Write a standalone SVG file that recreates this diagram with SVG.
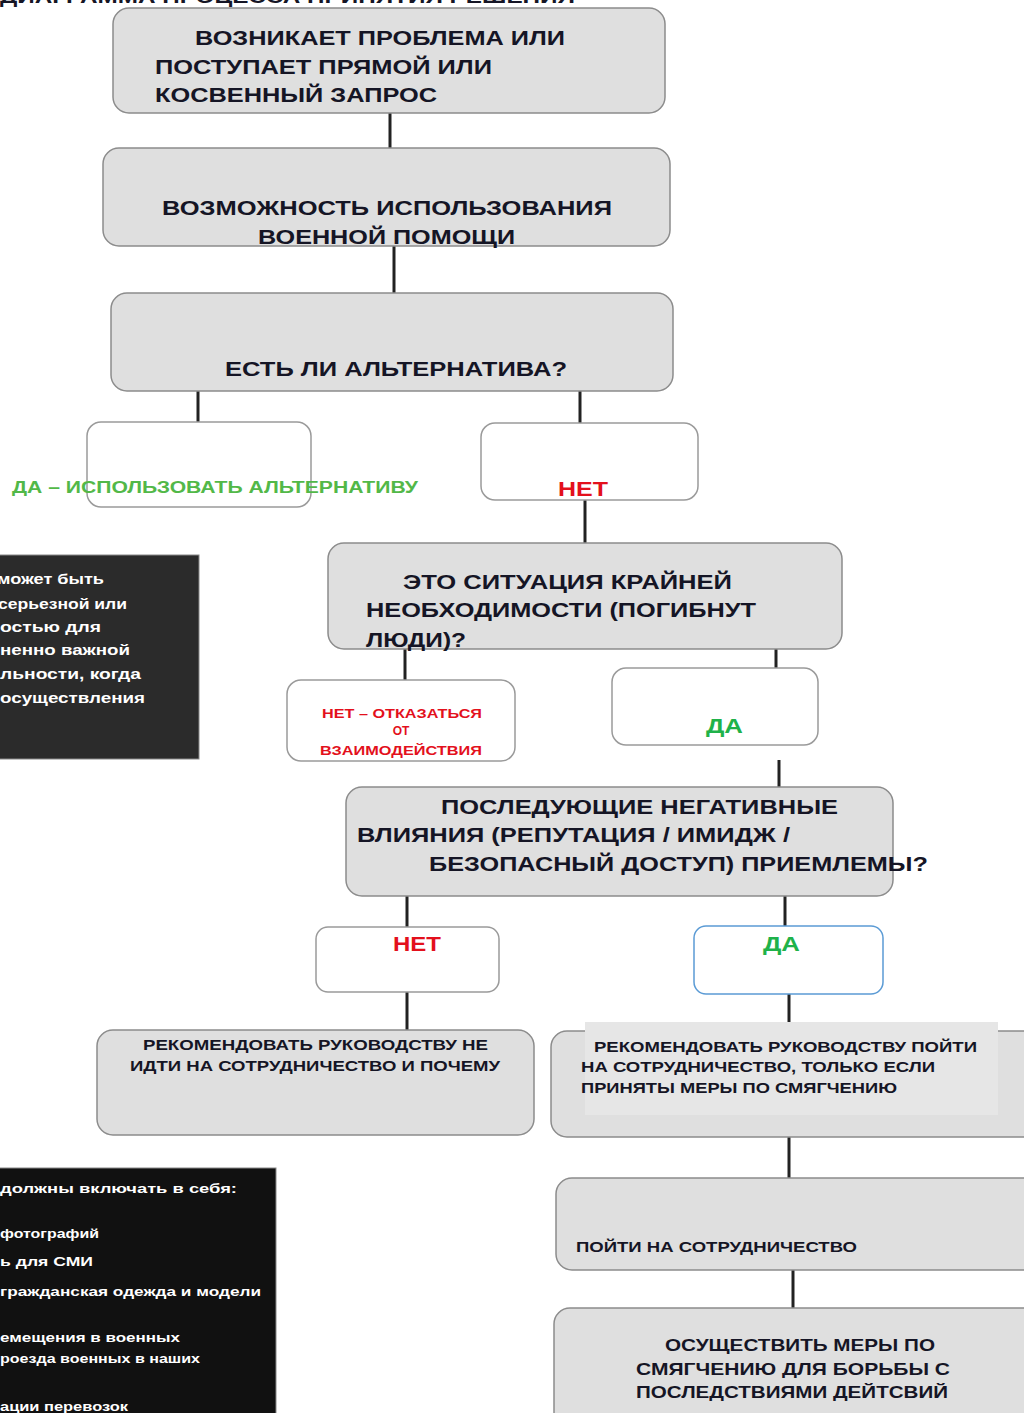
<svg xmlns="http://www.w3.org/2000/svg" width="1024" height="1413" viewBox="0 0 1024 1413">
<style>
.g{fill:#dfdfdf;stroke:#8c8c8c;stroke-width:1.5}
.w{fill:#ffffff;stroke:#9a9a9a;stroke-width:1.5}
.t{font-family:"Liberation Sans",Arial,sans-serif;font-weight:bold;fill:#151525}
.red{font-family:"Liberation Sans",Arial,sans-serif;font-weight:bold;fill:#e3101c}
.grn{font-family:"Liberation Sans",Arial,sans-serif;font-weight:bold;fill:#1fb24a}
.wt{font-family:"Liberation Sans",Arial,sans-serif;font-weight:bold;fill:#ffffff}
.c{stroke:#222;stroke-width:3;fill:none}
</style>
<rect width="1024" height="1413" fill="#ffffff"/>
<text class="t" x="0" y="3" font-size="18" fill="#223" textLength="575" lengthAdjust="spacingAndGlyphs">ДИАГРАММА ПРОЦЕССА ПРИНЯТИЯ РЕШЕНИЯ</text>
<g id="connectors">
<line class="c" x1="390" y1="113" x2="390" y2="148"/>
<line class="c" x1="394" y1="246" x2="394" y2="293"/>
<line class="c" x1="198" y1="391" x2="198" y2="422"/>
<line class="c" x1="580" y1="391" x2="580" y2="423"/>
<line class="c" x1="585" y1="500" x2="585" y2="543"/>
<line class="c" x1="405" y1="649" x2="405" y2="680"/>
<line class="c" x1="776" y1="649" x2="776" y2="680"/>
<line class="c" x1="779" y1="760" x2="779" y2="787"/>
<line class="c" x1="407" y1="896" x2="407" y2="927"/>
<line class="c" x1="785" y1="896" x2="785" y2="926"/>
<line class="c" x1="407" y1="992" x2="407" y2="1030"/>
<line class="c" x1="789" y1="994" x2="789" y2="1031"/>
<line class="c" x1="789" y1="1137" x2="789" y2="1178"/>
<line class="c" x1="793" y1="1270" x2="793" y2="1308"/>
</g>
<g id="n1">
<rect class="g" x="113" y="8" width="552" height="105" rx="16"/>
<text class="t" font-size="21" x="195" y="45" textLength="370" lengthAdjust="spacingAndGlyphs">ВОЗНИКАЕТ ПРОБЛЕМА ИЛИ</text>
<text class="t" font-size="21" x="155" y="74" textLength="337" lengthAdjust="spacingAndGlyphs">ПОСТУПАЕТ ПРЯМОЙ ИЛИ</text>
<text class="t" font-size="21" x="155" y="102" textLength="282" lengthAdjust="spacingAndGlyphs">КОСВЕННЫЙ ЗАПРОС</text>
</g>
<g id="n2">
<rect class="g" x="103" y="148" width="567" height="98" rx="16"/>
<text class="t" font-size="21" x="162" y="215" textLength="450" lengthAdjust="spacingAndGlyphs">ВОЗМОЖНОСТЬ ИСПОЛЬЗОВАНИЯ</text>
<text class="t" font-size="21" x="258" y="244" textLength="257" lengthAdjust="spacingAndGlyphs">ВОЕННОЙ ПОМОЩИ</text>
</g>
<g id="n3">
<rect class="g" x="111" y="293" width="562" height="98" rx="16"/>
<text class="t" font-size="21" x="225" y="376" textLength="342" lengthAdjust="spacingAndGlyphs">ЕСТЬ ЛИ АЛЬТЕРНАТИВА?</text>
</g>
<g id="n4">
<rect class="w" x="87" y="422" width="224" height="85" rx="14"/>
<text class="grn" font-size="16" x="12" y="493" fill="#4fb848" style="fill:#52b848" textLength="406" lengthAdjust="spacingAndGlyphs">ДА – ИСПОЛЬЗОВАТЬ АЛЬТЕРНАТИВУ</text>
</g>
<g id="n5">
<rect class="w" x="481" y="423" width="217" height="77" rx="14"/>
<text class="red" font-size="20" x="558" y="496" textLength="50" lengthAdjust="spacingAndGlyphs">НЕТ</text>
</g>
<g id="note1">
<rect x="-10" y="555" width="209" height="204" fill="#2b2b2b" stroke="#888" stroke-width="1"/>
<text class="wt" font-size="14" x="-3" y="584" textLength="107" lengthAdjust="spacingAndGlyphs">может быть</text>
<text class="wt" font-size="14" x="-2" y="609" textLength="129" lengthAdjust="spacingAndGlyphs">серьезной или</text>
<text class="wt" font-size="14" x="0" y="632" textLength="101" lengthAdjust="spacingAndGlyphs">остью  для</text>
<text class="wt" font-size="14" x="0" y="655" textLength="130" lengthAdjust="spacingAndGlyphs">ненно важной</text>
<text class="wt" font-size="14" x="0" y="679" textLength="141" lengthAdjust="spacingAndGlyphs">льности, когда</text>
<text class="wt" font-size="14" x="0" y="703" textLength="145" lengthAdjust="spacingAndGlyphs">осуществления</text>
</g>
<g id="n6">
<rect class="g" x="328" y="543" width="514" height="106" rx="16"/>
<text class="t" font-size="21" x="403" y="589" textLength="329" lengthAdjust="spacingAndGlyphs">ЭТО СИТУАЦИЯ КРАЙНЕЙ</text>
<text class="t" font-size="21" x="366" y="617" textLength="390" lengthAdjust="spacingAndGlyphs">НЕОБХОДИМОСТИ (ПОГИБНУТ</text>
<text class="t" font-size="21" x="366" y="647" textLength="100" lengthAdjust="spacingAndGlyphs">ЛЮДИ)?</text>
</g>
<g id="n7">
<rect class="w" x="287" y="680" width="228" height="81" rx="14"/>
<text class="red" font-size="12" x="322" y="718" textLength="160" lengthAdjust="spacingAndGlyphs">НЕТ – ОТКАЗАТЬСЯ</text>
<text class="red" font-size="12" x="401" y="735" text-anchor="middle">ОТ</text>
<text class="red" font-size="12" x="320" y="755" textLength="162" lengthAdjust="spacingAndGlyphs">ВЗАИМОДЕЙСТВИЯ</text>
</g>
<g id="n8">
<rect class="w" x="612" y="668" width="206" height="77" rx="14"/>
<text class="grn" font-size="20" x="706" y="733" textLength="37" lengthAdjust="spacingAndGlyphs">ДА</text>
</g>
<g id="n9">
<rect class="g" x="346" y="787" width="547" height="109" rx="16"/>
<text class="t" font-size="21" x="441" y="814" textLength="397" lengthAdjust="spacingAndGlyphs">ПОСЛЕДУЮЩИЕ НЕГАТИВНЫЕ</text>
<text class="t" font-size="21" x="357" y="842" textLength="433" lengthAdjust="spacingAndGlyphs">ВЛИЯНИЯ (РЕПУТАЦИЯ / ИМИДЖ /</text>
<text class="t" font-size="21" x="429" y="871" textLength="499" lengthAdjust="spacingAndGlyphs">БЕЗОПАСНЫЙ ДОСТУП) ПРИЕМЛЕМЫ?</text>
</g>
<g id="n10">
<rect class="w" x="316" y="927" width="183" height="65" rx="12"/>
<text class="red" font-size="20" x="393" y="951" textLength="48" lengthAdjust="spacingAndGlyphs">НЕТ</text>
</g>
<g id="n11">
<rect x="694" y="926" width="189" height="68" rx="12" fill="#ffffff" stroke="#5b9bd5" stroke-width="1.5"/>
<text class="grn" font-size="20" x="763" y="951" textLength="37" lengthAdjust="spacingAndGlyphs">ДА</text>
</g>
<g id="n12">
<rect class="g" x="97" y="1030" width="437" height="105" rx="16"/>
<text class="t" font-size="14" x="143" y="1050" textLength="345" lengthAdjust="spacingAndGlyphs">РЕКОМЕНДОВАТЬ РУКОВОДСТВУ НЕ</text>
<text class="t" font-size="14" x="130" y="1071" textLength="370" lengthAdjust="spacingAndGlyphs">ИДТИ НА СОТРУДНИЧЕСТВО И ПОЧЕМУ</text>
</g>
<g id="n13">
<rect class="g" x="551" y="1031" width="490" height="106" rx="16"/>
<rect x="585" y="1022" width="413" height="93" fill="#e6e6e6"/>
<text class="t" font-size="14" x="594" y="1052" textLength="383" lengthAdjust="spacingAndGlyphs">РЕКОМЕНДОВАТЬ РУКОВОДСТВУ ПОЙТИ</text>
<text class="t" font-size="14" x="581" y="1072" textLength="354" lengthAdjust="spacingAndGlyphs">НА СОТРУДНИЧЕСТВО, ТОЛЬКО ЕСЛИ</text>
<text class="t" font-size="14" x="581" y="1093" textLength="316" lengthAdjust="spacingAndGlyphs">ПРИНЯТЫ МЕРЫ ПО СМЯГЧЕНИЮ</text>
</g>
<g id="note2">
<rect x="-10" y="1168" width="286" height="260" fill="#111111" stroke="#888" stroke-width="1"/>
<text class="wt" font-size="13" x="0" y="1193" textLength="237" lengthAdjust="spacingAndGlyphs">должны включать в себя:</text>
<text class="wt" font-size="13" x="0" y="1238" textLength="99" lengthAdjust="spacingAndGlyphs">фотографий</text>
<text class="wt" font-size="13" x="0" y="1266" textLength="93" lengthAdjust="spacingAndGlyphs">ь для СМИ</text>
<text class="wt" font-size="13" x="0" y="1296" textLength="261" lengthAdjust="spacingAndGlyphs">гражданская одежда и модели</text>
<text class="wt" font-size="13" x="0" y="1342" textLength="180" lengthAdjust="spacingAndGlyphs">емещения в военных</text>
<text class="wt" font-size="13" x="0" y="1363" textLength="200" lengthAdjust="spacingAndGlyphs">роезда военных в наших</text>
<text class="wt" font-size="13" x="0" y="1411" textLength="128" lengthAdjust="spacingAndGlyphs">ации перевозок</text>
</g>
<g id="n14">
<rect class="g" x="556" y="1178" width="485" height="92" rx="16"/>
<text class="t" font-size="14" x="576" y="1252" textLength="281" lengthAdjust="spacingAndGlyphs">ПОЙТИ НА СОТРУДНИЧЕСТВО</text>
</g>
<g id="n15">
<rect class="g" x="554" y="1308" width="487" height="120" rx="16"/>
<text class="t" font-size="17" x="665" y="1351" textLength="270" lengthAdjust="spacingAndGlyphs">ОСУЩЕСТВИТЬ МЕРЫ ПО</text>
<text class="t" font-size="17" x="636" y="1375" textLength="314" lengthAdjust="spacingAndGlyphs">СМЯГЧЕНИЮ  ДЛЯ БОРЬБЫ С</text>
<text class="t" font-size="17" x="636" y="1398" textLength="312" lengthAdjust="spacingAndGlyphs">ПОСЛЕДСТВИЯМИ ДЕЙТСВИЙ</text>
</g>
</svg>
